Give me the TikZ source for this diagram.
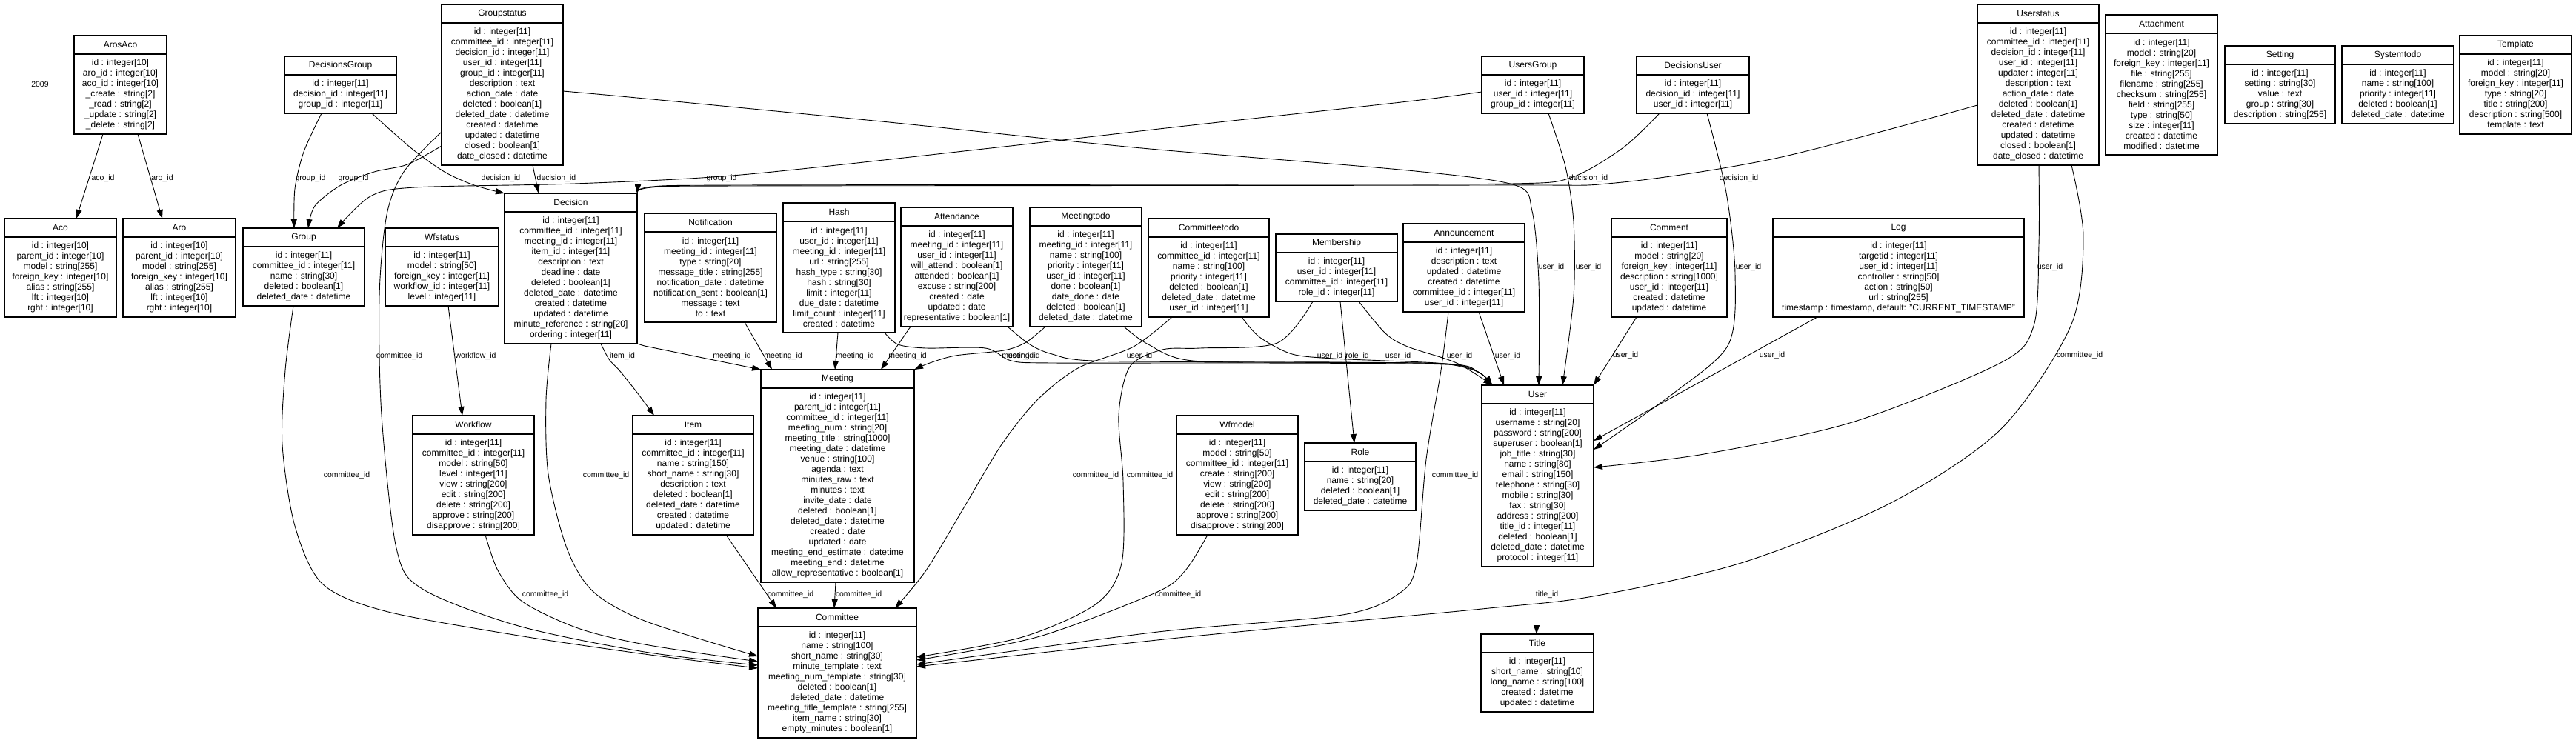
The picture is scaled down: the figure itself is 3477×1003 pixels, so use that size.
\documentclass[tikz,border=0pt]{standalone}
\usepackage{fontspec}
\setmainfont{Liberation Sans}
\usetikzlibrary{calc,arrows.meta}
\tikzset{
 entbox/.style={draw=black, line width=1.3pt, fill=white, inner sep=0pt, outer sep=0pt},
 enttitle/.style={font=\fontsize{12}{14}\selectfont, inner sep=0pt},
 entfields/.style={font=\fontsize{12}{14}\selectfont, inner sep=0pt, align=center},
 entsep/.style={line width=2.2pt},
 fk/.style={draw=black, line width=0.9pt, -{Triangle[length=12pt,width=8pt]}},
 lbl/.style={font=\fontsize{10.5}{12}\selectfont, inner sep=0pt},
}
\newcommand\ent[7]{%
 \node[entbox, minimum width=#4pt, minimum height={35pt+14pt*#5}, anchor=north west] (#1) at (#2,#3) {};
 \node[enttitle] (#1-t) at ($(#1.north)+(0,12.5)$) {#6};
 \draw[entsep] ([yshift=-25pt]#1.north west) -- ([yshift=-25pt]#1.north east);
 \node[entfields] (#1-f) at ($(#1.north)+(0,{25+(14*#5+10)/2})$) {#7};
}
\begin{document}
\begin{tikzpicture}[x=1pt,y=-1pt]
\fill[white] (0,0) rectangle (3477,1003);
\useasboundingbox (0,0) rectangle (3477,1003);

\node[lbl] (yr) at (54,114) {2009};

\ent{AroAco}{100}{48}{125}{7}{ArosAco}{id : integer[10]\\aro\_id : integer[10]\\aco\_id : integer[10]\\\_create : string[2]\\\_read : string[2]\\\_update : string[2]\\\_delete : string[2]}
\ent{Aco}{6}{295}{151}{7}{Aco}{id : integer[10]\\parent\_id : integer[10]\\model : string[255]\\foreign\_key : integer[10]\\alias : string[255]\\lft : integer[10]\\rght : integer[10]}
\ent{Aro}{166}{295}{152}{7}{Aro}{id : integer[10]\\parent\_id : integer[10]\\model : string[255]\\foreign\_key : integer[10]\\alias : string[255]\\lft : integer[10]\\rght : integer[10]}
\ent{DecisionsGroup}{384}{76}{151}{3}{DecisionsGroup}{id : integer[11]\\decision\_id : integer[11]\\group\_id : integer[11]}
\ent{Groupstatus}{596}{6}{164}{13}{Groupstatus}{id : integer[11]\\committee\_id : integer[11]\\decision\_id : integer[11]\\user\_id : integer[11]\\group\_id : integer[11]\\description : text\\action\_date : date\\deleted : boolean[1]\\deleted\_date : datetime\\created : datetime\\updated : datetime\\closed : boolean[1]\\date\_closed : datetime}
\ent{Group}{328}{308}{164}{5}{Group}{id : integer[11]\\committee\_id : integer[11]\\name : string[30]\\deleted : boolean[1]\\deleted\_date : datetime}
\ent{Wfstatus}{520}{308}{153}{5}{Wfstatus}{id : integer[11]\\model : string[50]\\foreign\_key : integer[11]\\workflow\_id : integer[11]\\level : integer[11]}
\ent{Decision}{681}{261}{179}{12}{Decision}{id : integer[11]\\committee\_id : integer[11]\\meeting\_id : integer[11]\\item\_id : integer[11]\\description : text\\deadline : date\\deleted : boolean[1]\\deleted\_date : datetime\\created : datetime\\updated : datetime\\minute\_reference : string[20]\\ordering : integer[11]}
\ent{Notification}{870}{288}{178}{8}{Notification}{id : integer[11]\\meeting\_id : integer[11]\\type : string[20]\\message\_title : string[255]\\notification\_date : datetime\\notification\_sent : boolean[1]\\message : text\\to : text}
\ent{Hash}{1057}{274}{151}{10}{Hash}{id : integer[11]\\user\_id : integer[11]\\meeting\_id : integer[11]\\url : string[255]\\hash\_type : string[30]\\hash : string[30]\\limit : integer[11]\\due\_date : datetime\\limit\_count : integer[11]\\created : datetime}
\ent{Attendance}{1216}{280}{151}{9}{Attendance}{id : integer[11]\\meeting\_id : integer[11]\\user\_id : integer[11]\\will\_attend : boolean[1]\\attended : boolean[1]\\excuse : string[200]\\created : date\\updated : date\\representative : boolean[1]}
\ent{Meetingtodo}{1390}{280}{151}{9}{Meetingtodo}{id : integer[11]\\meeting\_id : integer[11]\\name : string[100]\\priority : integer[11]\\user\_id : integer[11]\\done : boolean[1]\\date\_done : date\\deleted : boolean[1]\\deleted\_date : datetime}
\ent{Committeetodo}{1550}{295}{163}{7}{Committeetodo}{id : integer[11]\\committee\_id : integer[11]\\name : string[100]\\priority : integer[11]\\deleted : boolean[1]\\deleted\_date : datetime\\user\_id : integer[11]}
\ent{Membership}{1722}{316}{164}{4}{Membership}{id : integer[11]\\user\_id : integer[11]\\committee\_id : integer[11]\\role\_id : integer[11]}
\ent{Announcement}{1894}{302}{164}{6}{Announcement}{id : integer[11]\\description : text\\updated : datetime\\created : datetime\\committee\_id : integer[11]\\user\_id : integer[11]}
\ent{UsersGroup}{2000}{76}{138}{3}{UsersGroup}{id : integer[11]\\user\_id : integer[11]\\group\_id : integer[11]}
\ent{DecisionsUser}{2209}{76}{152}{3}{DecisionsUser}{id : integer[11]\\decision\_id : integer[11]\\user\_id : integer[11]}
\ent{Comment}{2175}{295}{156}{7}{Comment}{id : integer[11]\\model : string[20]\\foreign\_key : integer[11]\\description : string[1000]\\user\_id : integer[11]\\created : datetime\\updated : datetime}
\ent{Log}{2393}{295}{339}{7}{Log}{id : integer[11]\\targetid : integer[11]\\user\_id : integer[11]\\controller : string[50]\\action : string[50]\\url : string[255]\\timestamp : timestamp, default: "CURRENT\_TIMESTAMP"}
\ent{Userstatus}{2669}{6}{164}{13}{Userstatus}{id : integer[11]\\committee\_id : integer[11]\\decision\_id : integer[11]\\user\_id : integer[11]\\updater : integer[11]\\description : text\\action\_date : date\\deleted : boolean[1]\\deleted\_date : datetime\\created : datetime\\updated : datetime\\closed : boolean[1]\\date\_closed : datetime}
\ent{Attachment}{2842}{20}{151}{11}{Attachment}{id : integer[11]\\model : string[20]\\foreign\_key : integer[11]\\file : string[255]\\filename : string[255]\\checksum : string[255]\\field : string[255]\\type : string[50]\\size : integer[11]\\created : datetime\\modified : datetime}
\ent{Setting}{3003}{62}{149}{5}{Setting}{id : integer[11]\\setting : string[30]\\value : text\\group : string[30]\\description : string[255]}
\ent{Systemtodo}{3161}{62}{151}{5}{Systemtodo}{id : integer[11]\\name : string[100]\\priority : integer[11]\\deleted : boolean[1]\\deleted\_date : datetime}
\ent{Template}{3320}{48}{151}{7}{Template}{id : integer[11]\\model : string[20]\\foreign\_key : integer[11]\\type : string[20]\\title : string[200]\\description : string[500]\\template : text}
\ent{Workflow}{557}{561}{164}{9}{Workflow}{id : integer[11]\\committee\_id : integer[11]\\model : string[50]\\level : integer[11]\\view : string[200]\\edit : string[200]\\delete : string[200]\\approve : string[200]\\disapprove : string[200]}
\ent{Item}{854}{561}{163}{9}{Item}{id : integer[11]\\committee\_id : integer[11]\\name : string[150]\\short\_name : string[30]\\description : text\\deleted : boolean[1]\\deleted\_date : datetime\\created : datetime\\updated : datetime}
\ent{Meeting}{1027}{499}{207}{18}{Meeting}{id : integer[11]\\parent\_id : integer[11]\\committee\_id : integer[11]\\meeting\_num : string[20]\\meeting\_title : string[1000]\\meeting\_date : datetime\\venue : string[100]\\agenda : text\\minutes\_raw : text\\minutes : text\\invite\_date : date\\deleted : boolean[1]\\deleted\_date : datetime\\created : date\\updated : date\\meeting\_end\_estimate : datetime\\meeting\_end : datetime\\allow\_representative : boolean[1]}
\ent{Wfmodel}{1588}{561}{164}{9}{Wfmodel}{id : integer[11]\\model : string[50]\\committee\_id : integer[11]\\create : string[200]\\view : string[200]\\edit : string[200]\\delete : string[200]\\approve : string[200]\\disapprove : string[200]}
\ent{Role}{1761}{598}{150}{4}{Role}{id : integer[11]\\name : string[20]\\deleted : boolean[1]\\deleted\_date : datetime}
\ent{User}{2000}{520}{151}{15}{User}{id : integer[11]\\username : string[20]\\password : string[200]\\superuser : boolean[1]\\job\_title : string[30]\\name : string[80]\\email : string[150]\\telephone : string[30]\\mobile : string[30]\\fax : string[30]\\address : string[200]\\title\_id : integer[11]\\deleted : boolean[1]\\deleted\_date : datetime\\protocol : integer[11]}
\ent{Title}{1999}{856}{152}{5}{Title}{id : integer[11]\\short\_name : string[10]\\long\_name : string[100]\\created : datetime\\updated : datetime}
\ent{Committee}{1023}{821}{214}{10}{Committee}{id : integer[11]\\name : string[100]\\short\_name : string[30]\\minute\_template : text\\meeting\_num\_template : string[30]\\deleted : boolean[1]\\deleted\_date : datetime\\meeting\_title\_template : string[255]\\item\_name : string[30]\\empty\_minutes : boolean[1]}

% ---------- connectors ----------
\draw[fk] ([xshift=39pt]AroAco.south west) -- ([xshift=97pt]Aco.north west);
\draw[fk] ([xshift=86pt]AroAco.south west) -- ([xshift=53pt]Aro.north west);
\draw[fk] plot[smooth] coordinates {([xshift=50pt]DecisionsGroup.south west) (410,205) (398,255) ([xshift=69pt]Group.north west)};
\draw[fk] plot[smooth] coordinates {([yshift=-191pt]Groupstatus.north west) (550,222) (505,232) (460,250) (425,278) ([xshift=88pt]Group.north west)};
\draw[fk] plot[smooth] coordinates {([yshift=-172pt]Groupstatus.north west) (545,232) (522,290) (512,400) (515,560) (535,740) (570,795) (700,845) (870,880) ([yshift=-77pt]Committee.north west)};
\draw[fk] plot[smooth] coordinates {([xshift=68pt]Group.south west) (385,500) (381,600) (398,710) (435,788) (520,825) (700,858) (870,883) ([yshift=-81pt]Committee.north west)};
\draw[fk] plot[smooth] coordinates {([xshift=63pt]Decision.south west) (737,540) (740,640) (765,740) (800,798) (870,838) ([yshift=-65pt]Committee.north west)};
\draw[fk] plot[smooth] coordinates {([xshift=98pt]Workflow.south west) (672,770) (705,812) (780,848) (870,870) ([yshift=-72pt]Committee.north west)};
\draw[fk] ([xshift=85pt]Wfstatus.south west) -- ([xshift=67pt]Workflow.north west);
\draw[fk] plot[smooth] coordinates {([xshift=118pt]DecisionsGroup.south west) (555,200) (600,232) (640,250) (Decision.north west)};
\draw[fk] ([xshift=123pt]Groupstatus.south west) -- ([xshift=46pt]Decision.north west);
\draw[fk] plot[smooth] coordinates {([yshift=-117pt]Groupstatus.north east) (870,133) (1200,165) (1541,200) (1900,230) (2045,250) (2068,285) (2077,380) ([xshift=77pt]User.north west)};
\draw[fk] plot[smooth] coordinates {([yshift=-48pt]UsersGroup.north west) (1900,137) (1600,170) (1337,200) (1000,236) (775,248) (560,253) (500,265) ([xshift=127pt]Group.north west)};
\draw[fk] plot[smooth] coordinates {([xshift=90pt]UsersGroup.south west) (2113,225) (2124,300) (2124,400) ([xshift=109pt]User.north west)};
\draw[fk] plot[smooth] coordinates {([xshift=31pt]DecisionsUser.south west) (2190,200) (2120,240) (2040,248) (1700,249) (1000,250) (880,252) (Decision.north east)};
\draw[fk] plot[smooth] coordinates {([xshift=95pt]DecisionsUser.south west) (2330,260) (2342,370) (2333,465) (2260,530) ([yshift=-87pt]User.north east)};
\draw[fk] plot[smooth] coordinates {([yshift=-136pt]Userstatus.north west) (2400,213) (2180,247) (2000,250) (1000,251) (880,253) (Decision.north east)};
\draw[fk] plot[smooth] coordinates {([xshift=83pt]Userstatus.south west) (2752,330) (2745,440) (2700,490) (2500,570) (2300,613) ([yshift=-111pt]User.north east)};
\draw[fk] plot[smooth] coordinates {([xshift=127pt]Userstatus.south west) (2812,320) (2795,440) (2700,580) (2550,680) (2350,760) (2150,805) (2000,822) (1600,860) ([yshift=-79pt]Committee.north east)};
\draw[fk] ([xshift=34pt]Comment.south west) -- (User.north east);
\draw[fk] ([xshift=60pt]Log.south west) -- ([yshift=-75pt]User.north east);
\draw[fk] ([xshift=102pt]Announcement.south west) -- ([xshift=30pt]User.north west);
\draw[fk] plot[smooth] coordinates {([xshift=61pt]Announcement.south west) (1945,500) (1925,620) (1912,760) (1890,800) (1812,830) (1563,853) ([yshift=-76pt]Committee.north east)};
\draw[fk] ([xshift=87pt]Membership.south west) -- ([xshift=67pt]Role.north west);
\draw[fk] plot[smooth] coordinates {([xshift=112pt]Membership.south west) (1870,450) (1900,468) (1966,490) ([xshift=14pt]User.north west)};
\draw[fk] plot[smooth] coordinates {([xshift=32pt]Committeetodo.south west) (1530,468) (1455,497) (1400,540) (1352,600) (1300,687) (1250,770) ([xshift=185pt]Committee.north west)};
\draw[fk] plot[smooth] coordinates {([xshift=50pt]Membership.south west) (1724,463) (1620,470) (1569,472) (1525,495) (1510,560) (1516,650) (1514,760) (1480,815) (1380,860) ([yshift=-66pt]Committee.north east)};
\draw[fk] plot[smooth] coordinates {([xshift=42pt]Wfmodel.south west) (1600,770) (1560,800) (1400,860) ([yshift=-70pt]Committee.north east)};
\draw[fk] ([xshift=126pt]Item.south west) -- ([xshift=25pt]Committee.north west);
\draw[fk] ([xshift=101pt]Meeting.south west) -- ([xshift=103pt]Committee.north west);
\draw[fk] plot[smooth] coordinates {([xshift=130pt]Decision.south west) (822,485) (836,500) (860,530) ([xshift=29pt]Item.north west)};
\draw[fk] (Decision.south east) -- (870,467) -- (Meeting.north west);
\draw[fk] ([xshift=135pt]Notification.south west) -- ([xshift=15pt]Meeting.north west);
\draw[fk] ([xshift=74pt]Hash.south west) -- ([xshift=100pt]Meeting.north west);
\draw[fk] ([xshift=13pt]Attendance.south west) -- ([xshift=162pt]Meeting.north west);
\draw[fk] plot[smooth] coordinates {([xshift=21pt]Meetingtodo.south west) (1385,462) (1355,473) (1290,480) (1255,490) (Meeting.north east)};
\draw[fk] plot[smooth] coordinates {([xshift=137pt]Hash.south west) (1212,465) (1250,470) (1330,470) (1365,487) (1420,490) (1700,490) (1950,492) (1995,502) ([xshift=14pt]User.north west)};
\draw[fk] plot[smooth] coordinates {([xshift=144pt]Attendance.south west) (1390,465) (1420,478) (1475,487) (1700,489) (1950,491) (1995,502) ([xshift=14pt]User.north west)};
\draw[fk] plot[smooth] coordinates {([xshift=127pt]Meetingtodo.south west) (1550,465) (1610,487) (1800,489) (1950,491) (1995,502) ([xshift=14pt]User.north west)};
\draw[fk] plot[smooth] coordinates {([xshift=126pt]Committeetodo.south west) (1700,455) (1744,478) (1800,484) (1870,487) (1950,491) (1995,502) ([xshift=14pt]User.north west)};
\draw[fk] ([xshift=74pt]User.south west) -- ([xshift=75pt]Title.north west);

% ---------- labels ----------
\node[lbl] (l1) at (139,241) {aco\_id};
\node[lbl] (l2) at (219,241) {aro\_id};
\node[lbl] (l3) at (419,241) {group\_id};
\node[lbl] (l4) at (477,241) {group\_id};
\node[lbl] (l5) at (676,241) {decision\_id};
\node[lbl] (l6) at (751,241) {decision\_id};
\node[lbl] (l7) at (974,241) {group\_id};
\node[lbl] (l8) at (2144,241) {decision\_id};
\node[lbl] (l9) at (2347,241) {decision\_id};
\node[lbl] (l10) at (2094,361) {user\_id};
\node[lbl] (l11) at (2144,361) {user\_id};
\node[lbl] (l12) at (2360,361) {user\_id};
\node[lbl] (l13) at (2767,361) {user\_id};
\node[lbl] (l14) at (539,481) {committee\_id};
\node[lbl] (l15) at (642,481) {workflow\_id};
\node[lbl] (l16) at (840,481) {item\_id};
\node[lbl] (l17) at (988,481) {meeting\_id};
\node[lbl] (l18) at (1057,481) {meeting\_id};
\node[lbl] (l19) at (1154,481) {meeting\_id};
\node[lbl] (l20) at (1225,481) {meeting\_id};
\node[lbl] (l21) at (1378,481) {meeting\_id};
\node[lbl] (l22) at (1378,481) {user\_id};
\node[lbl] (l23) at (1538,481) {user\_id};
\node[lbl] (l24) at (1795,481) {user\_id};
\node[lbl] (l25) at (1832,481) {role\_id};
\node[lbl] (l26) at (1887,481) {user\_id};
\node[lbl] (l27) at (1970,481) {user\_id};
\node[lbl] (l28) at (2035,481) {user\_id};
\node[lbl] (l29) at (2194,480) {user\_id};
\node[lbl] (l30) at (2392,480) {user\_id};
\node[lbl] (l31) at (2807,480) {committee\_id};
\node[lbl] (l32) at (468,642) {committee\_id};
\node[lbl] (l33) at (818,642) {committee\_id};
\node[lbl] (l34) at (1479,642) {committee\_id};
\node[lbl] (l35) at (1552,642) {committee\_id};
\node[lbl] (l36) at (1964,642) {committee\_id};
\node[lbl] (l37) at (736,803) {committee\_id};
\node[lbl] (l38) at (1067,803) {committee\_id};
\node[lbl] (l39) at (1159,803) {committee\_id};
\node[lbl] (l40) at (1590,803) {committee\_id};
\node[lbl] (l41) at (2088,803) {title\_id};
\end{tikzpicture}
\end{document}
